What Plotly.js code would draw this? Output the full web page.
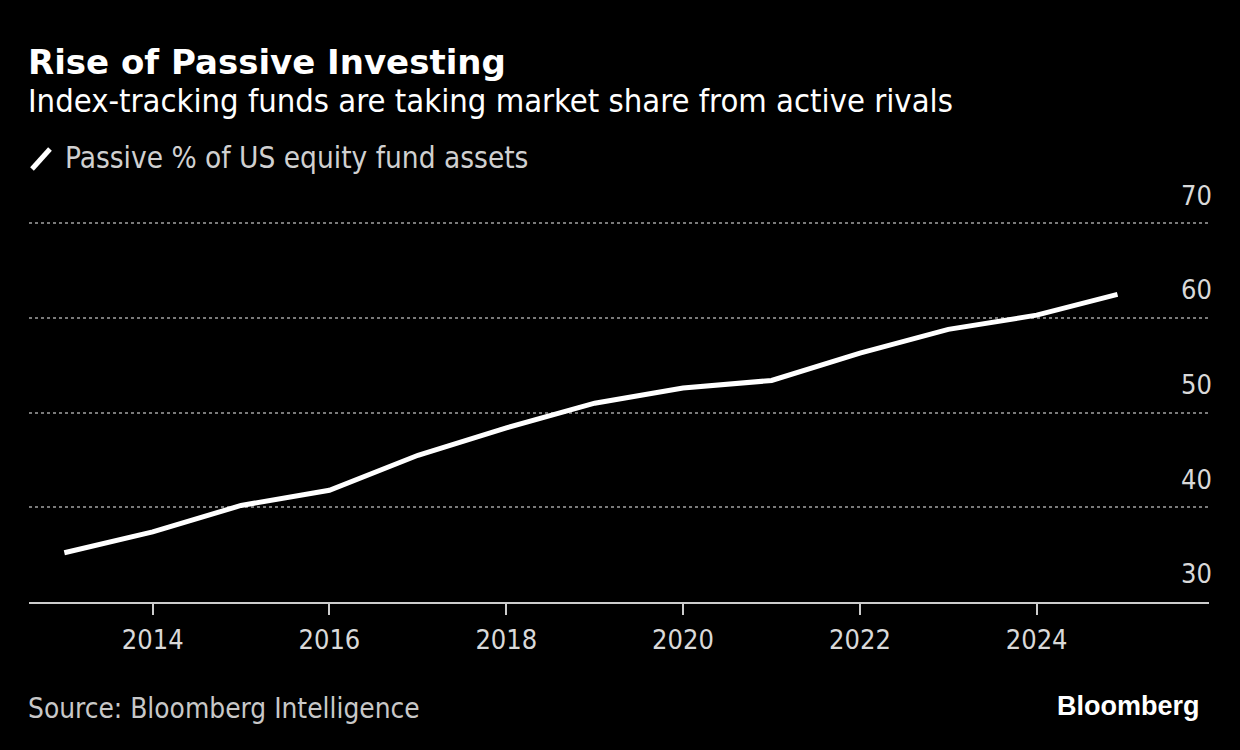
<!DOCTYPE html>
<html>
<head>
<meta charset="utf-8">
<script src="https://cdn.plot.ly/plotly-3.0.1.min.js"></script>
<style>
  html, body { margin: 0; padding: 0; background: #000; }
  #chart { width: 1240px; height: 750px; }
</style>
</head>
<body>
<div id="chart"></div>
<script>
// Data
const dates = ['2013-01-01','2014-01-01','2015-01-01','2016-01-01','2017-01-01','2018-01-01',
               '2019-01-01','2020-01-01','2021-01-01','2022-01-01','2023-01-01','2024-01-01','2024-11-30'];
const passiveShare = [35.2, 37.4, 40.2, 41.8, 45.5, 48.4, 51.0, 52.6, 53.4, 56.3, 58.8, 60.3, 62.5];
const seriesName = 'Passive % of US equity fund assets';
const yTicks = [30, 40, 50, 60, 70];

const titleText = 'Rise of Passive Investing';
const subtitleText = 'Index-tracking funds are taking market share from active rivals';
const sourceText = 'Source: Bloomberg Intelligence';

// Layout geometry helpers (pixel -> paper)
const plotTop = 176, plotBottom = 602;
const py = px => (plotBottom - px) / (plotBottom - plotTop);

const COND = '"DejaVu Sans Condensed", "DejaVu Sans", sans-serif';

const trace = {
  x: dates,
  y: passiveShare,
  type: 'scatter',
  mode: 'lines',
  name: seriesName,
  line: { color: '#ffffff', width: 5 },
  hoverinfo: 'skip',
  showlegend: false
};

const layout = {
  width: 1240, height: 750,
  paper_bgcolor: '#000000', plot_bgcolor: '#000000',
  margin: { l: 29, r: 31, t: plotTop, b: 750 - plotBottom },
  showlegend: false,
  xaxis: {
    type: 'date',
    range: ['2012-08-08', '2025-12-13'],
    tick0: '2014-01-01', dtick: 'M24', tickformat: '%Y',
    showgrid: false, zeroline: false,
    showline: true, linecolor: '#cccccc', linewidth: 2,
    ticks: 'outside', ticklen: 11, tickwidth: 2, tickcolor: '#cccccc',
    tickfont: { family: COND, size: 27, color: '#d9d9d9' },
    ticklabelstandoff: 2,
    fixedrange: true
  },
  yaxis: {
    range: [30, 75],
    tickvals: yTicks,
    side: 'right',
    ticklabelposition: 'inside',
    ticklabelshift: -28,
    ticklabelstandoff: -6,
    showgrid: true, gridcolor: '#7a7a7a', gridwidth: 2, griddash: '3px,3px',
    zeroline: false, showline: false, ticks: '',
    tickfont: { family: COND, size: 27, color: '#d9d9d9' },
    fixedrange: true
  },
  annotations: [
    { text: '<b>' + titleText + '</b>', xref: 'paper', yref: 'paper', x: 0, y: py(62), xshift: -3,
      xanchor: 'left', yanchor: 'middle', showarrow: false,
      font: { family: '"DejaVu Sans", sans-serif', size: 34, color: '#ffffff' } },
    { text: subtitleText, xref: 'paper', yref: 'paper', x: 0, y: py(101), xshift: -3,
      xanchor: 'left', yanchor: 'middle', showarrow: false,
      font: { family: COND, size: 32.5, color: '#ffffff' } },
    { text: seriesName, xref: 'paper', yref: 'paper', x: 37 / 1180, y: py(158), xshift: -3,
      xanchor: 'left', yanchor: 'middle', showarrow: false,
      font: { family: COND, size: 29.5, color: '#d0d0d0' } },
    { text: sourceText, xref: 'paper', yref: 'paper', x: 0, y: py(708), xshift: -3,
      xanchor: 'left', yanchor: 'middle', showarrow: false,
      font: { family: COND, size: 27.8, color: '#c8c8c8' } },
    { text: '<b>Bloomberg</b>', xref: 'paper', yref: 'paper', x: (1202 - 29) / 1180, y: py(706),
      xanchor: 'right', yanchor: 'middle', showarrow: false,
      font: { family: '"Liberation Sans", Arial, sans-serif', size: 27, color: '#ffffff' } }
  ],
  shapes: [
    { type: 'line', xref: 'paper', yref: 'paper',
      x0: 3 / 1180, y0: py(169), x1: 21 / 1180, y1: py(149),
      line: { color: '#ffffff', width: 5 } }
  ]
};

Plotly.newPlot('chart', [trace], layout, { displayModeBar: false, staticPlot: true });
</script>
</body>
</html>
